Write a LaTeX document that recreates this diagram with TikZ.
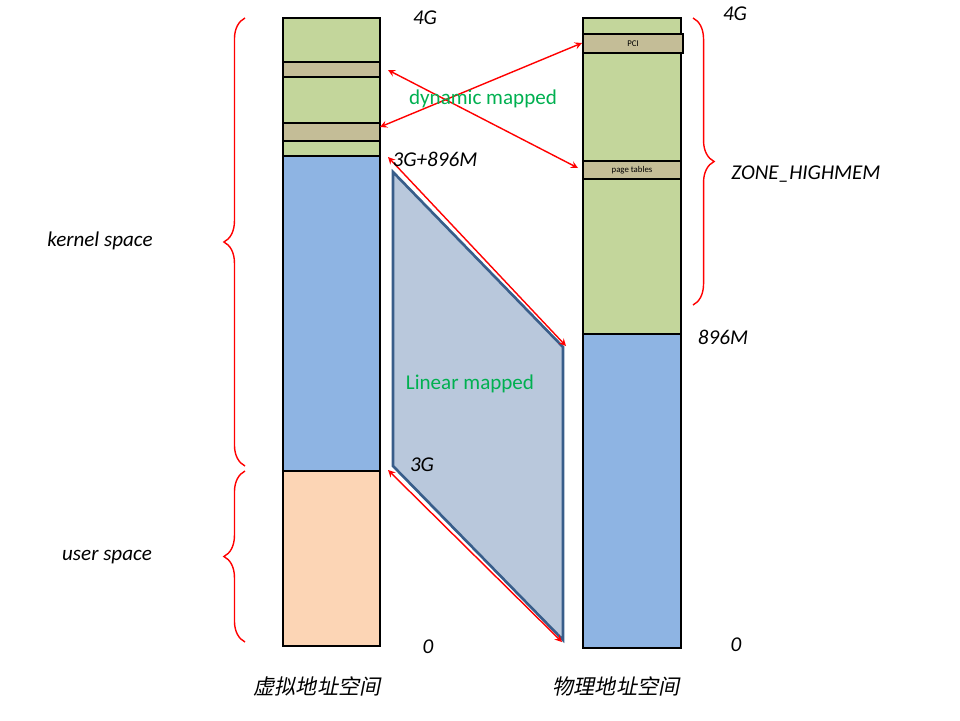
\documentclass[tikz,border=0pt]{standalone}
\usepackage{fontspec}
\setmainfont{Carlito}
\newfontfamily\cjk[FakeSlant=0.2]{Noto Sans CJK SC}
\usetikzlibrary{arrows,decorations.pathreplacing}
\definecolor{memgreen}{HTML}{C3D69B}
\definecolor{memtan}{HTML}{C4BD97}
\definecolor{memblue}{HTML}{8EB4E3}
\definecolor{mempeach}{HTML}{FCD5B5}
\definecolor{mapfill}{HTML}{B9C8DC}
\definecolor{mapedge}{HTML}{385D8A}
\definecolor{labgreen}{HTML}{00B050}
\tikzset{>=latex}
\tikzset{%
  band/.style={draw=black, line width=1.5pt},
  maparrow/.style={red, thick, <->, >=stealth},
  addr/.style={font=\itshape\large},
  bracer/.style={red, thick, decorate, decoration={brace, amplitude=12pt}},
}
\begin{document}
\begin{tikzpicture}[x=0.02cm, y=-0.02cm]
  \useasboundingbox (0,0) rectangle (960,720);

  % trapezoid for the linear mapping
  \draw[fill=mapfill, draw=mapedge, line width=1.5pt] (393,172) -- (563,347) -- (563,640) -- (393,466) -- cycle;

  % virtual address space
  \draw[band, fill=memgreen] (283,18) rectangle (380,62);
  \draw[band, fill=memtan] (283,62) rectangle (380,77);
  \draw[band, fill=memgreen] (283,77) rectangle (380,123);
  \draw[band, fill=memtan] (283,123) rectangle (380,141);
  \draw[band, fill=memgreen] (283,141) rectangle (380,156);
  \draw[band, fill=memblue] (283,156) rectangle (380,471);
  \draw[band, fill=mempeach] (283,471) rectangle (380,646);

  % physical address space
  \draw[band, fill=memgreen] (583,18) rectangle (681,34);
  \draw[band, fill=memtan] (583,34) rectangle (683,53) node[midway, font=\tiny] {PCI};
  \draw[band, fill=memgreen] (583,53) rectangle (681,161);
  \draw[band, fill=memtan] (583,161) rectangle (681,179) node[midway, font=\tiny] {page tables};
  \draw[band, fill=memgreen] (583,179) rectangle (681,334);
  \draw[band, fill=memblue] (583,334) rectangle (681,648);

  % arrow ends
  \coordinate (vtop) at (388,157);
  \coordinate (ptop) at (566,346);
  \coordinate (vlow) at (388,470);
  \coordinate (plow) at (562,642);
  \coordinate (vdyn1) at (388,70);
  \coordinate (pdyn1) at (578,168);
  \coordinate (vdyn2) at (380,127);
  \coordinate (pdyn2) at (582,43);

  \draw[maparrow] (vtop) -- (ptop);
  \draw[maparrow] (vlow) -- (plow);
  \draw[maparrow] (vdyn1) -- (pdyn1);
  \draw[maparrow] (vdyn2) -- (pdyn2);

  % braces
  \draw[bracer] (245,466) -- (245,18);
  \draw[bracer] (245,642) -- (245,471);
  \draw[bracer] (693,18) -- (693,305);

  % labels
  \node[addr] (v4g) at (425,18) {4G};
  \node[addr] (v3g896) at (435,159) {3G+896M};
  \node[addr] (v3g) at (422,465) {3G};
  \node[addr] (v0) at (428,647) {0};
  \node[addr] (p4g) at (735,14) {4G};
  \node[addr] (p896) at (723,337) {896M};
  \node[addr] (p0) at (736,645) {0};
  \node[addr] (zone) at (806,174) {ZONE\_HIGHMEM};
  \node[addr] (kspace) at (100,241) {kernel space};
  \node[addr] (uspace) at (107,557) {user space};
  \node[font=\large, text=labgreen] (dyn) at (483,99) {dynamic mapped};
  \node[font=\large, text=labgreen] (lin) at (470,384) {Linear mapped};
  \node[font=\cjk\large] (vname) at (317,686) {虚拟地址空间};
  \node[font=\cjk\large] (pname) at (616,686) {物理地址空间};
\end{tikzpicture}
\end{document}
